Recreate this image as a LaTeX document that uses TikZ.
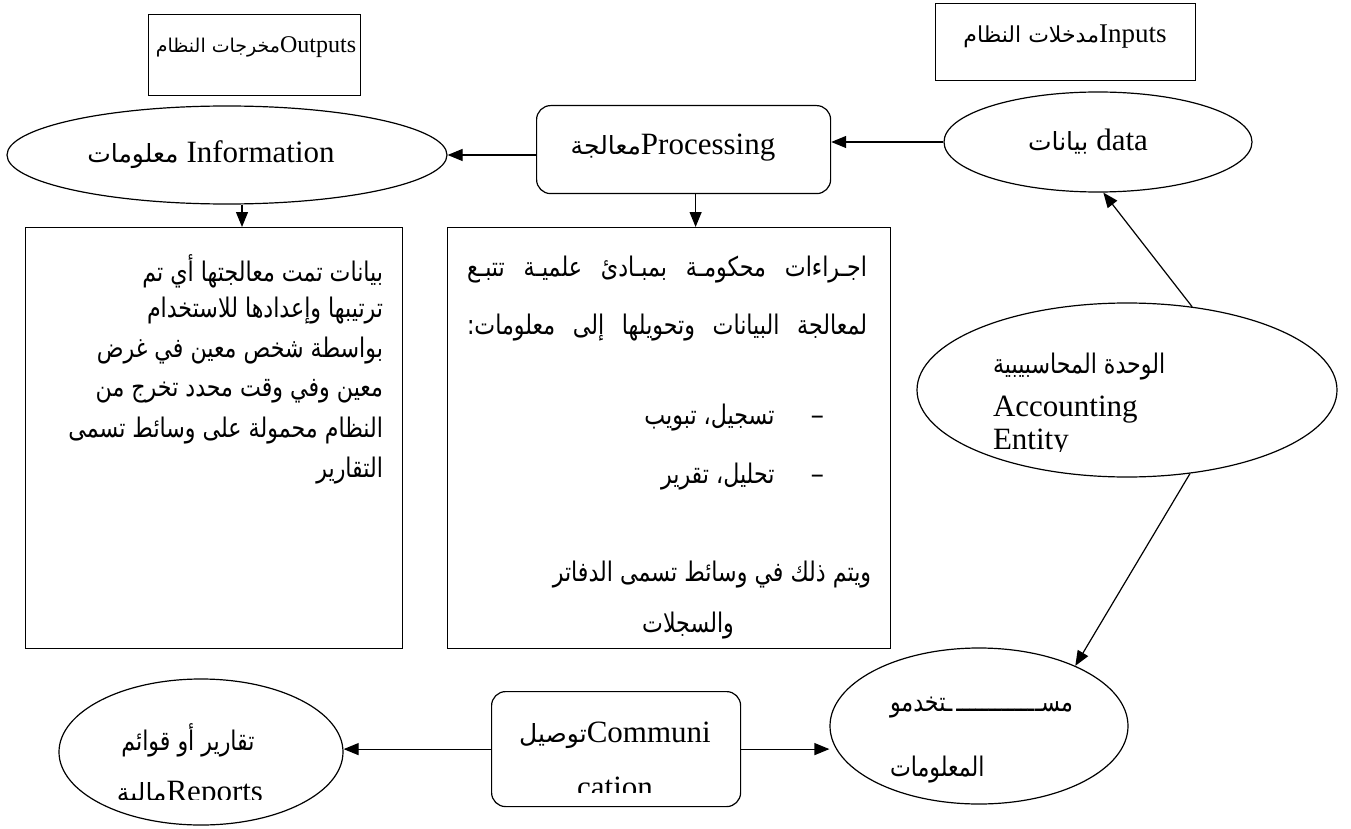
\documentclass[tikz,border=0pt]{standalone}
\usepackage{fontspec}
\setmainfont{Liberation Serif}
\newfontfamily\arf[Script=Arabic]{DejaVu Sans}
\newfontfamily\arb[Script=Arabic,FakeStretch=0.82]{DejaVu Sans}
\newfontfamily\enf{Liberation Serif}
\TeXXeTstate=1
\usetikzlibrary{shapes.geometric,arrows.meta,calc}
\newcommand{\E}[1]{{\enf\fontsize{31}{36}\selectfont #1}}
\newcommand{\Es}[1]{{\enf\fontsize{27}{32}\selectfont #1}}
\newcommand{\Et}[1]{{\enf\fontsize{24}{28}\selectfont #1}}
\newcommand{\AL}[1]{{\arf\fontsize{25}{30}\selectfont #1}}
\newcommand{\ALs}[1]{{\arf\fontsize{22}{26}\selectfont #1}}
\newcommand{\ALt}[1]{{\arf\fontsize{19}{23}\selectfont #1}}
\newcommand{\BT}[1]{{\arb\fontsize{27}{32}\selectfont #1}}
\newcommand{\JL}[2]{{\arb\fontsize{27}{32}\selectfont\spaceskip=0.25em plus 1fil\hbox to #1{#2}}}
\begin{document}
\begin{tikzpicture}[x=1pt,y=-1pt,
  ln/.style={line width=1.2pt},
  arr/.style={ln,-{Triangle[length=15pt,width=12pt]}},
  boxn/.style={draw,line width=1.2pt,inner sep=0,anchor=north west},
  rboxn/.style={boxn,rounded corners=14pt},
  ell/.style={draw,ellipse,line width=1.2pt,inner sep=0},
  txt/.style={inner sep=0,outer sep=0}]
\useasboundingbox (0,0) rectangle (1351,829);
% shapes
\node[boxn,minimum width=212pt,minimum height=81pt] (outbox) at (148,14) {};
\node[boxn,minimum width=260pt,minimum height=77pt] (inbox) at (935,3) {};
\node[ell,minimum width=440pt,minimum height=98pt] (info) at (227,155) {};
\node[rboxn,minimum width=294pt,minimum height=88pt] (proc) at (536,105) {};
\node[ell,minimum width=308pt,minimum height=100pt] (data) at (1098,142) {};
\node[boxn,minimum width=377pt,minimum height=421pt] (leftbox) at (25,227) {};
\node[boxn,minimum width=443pt,minimum height=421pt] (midbox) at (447,227) {};
\node[ell,minimum width=420pt,minimum height=174pt] (acc) at (1127,390) {};
\node[ell,minimum width=298pt,minimum height=156pt] (users) at (979,726) {};
\node[rboxn,minimum width=249pt,minimum height=115pt] (comm) at (491,691) {};
\node[ell,minimum width=284pt,minimum height=146pt] (reports) at (201,752) {};
% labels
\node[txt] (outtxt) at (256,47) {\ALt{\beginR\beginL\Et{Outputs}\endL مخرجات النظام\endR}};
\node[txt] (intxt) at (1065,37) {\ALs{\beginR\beginL\Es{Inputs}\endL مدخلات النظام\endR}};
\node[txt] (infotxt) at (211,155) {\AL{\beginR\beginL\E{Information}\endL{} معلومات\endR}};
\node[txt] (proctxt) at (673,148) {\AL{\beginR\beginL\E{Processing}\endL معالجة\endR}};
\node[txt] (datatxt) at (1088,142) {\AL{\beginR\beginL\E{data}\endL{} بيانات\endR}};
% left box
\node[txt,anchor=east] (l1) at (383,271) {\BT{\beginR بيانات تمت معالجتها أي تم\endR}};
\node[txt,anchor=east] (l2) at (383,311) {\BT{\beginR ترتيبها وإعدادها للاستخدام\endR}};
\node[txt,anchor=east] (l3) at (383,351) {\BT{\beginR بواسطة شخص معين في غرض\endR}};
\node[txt,anchor=east] (l4) at (383,391) {\BT{\beginR معين وفي وقت محدد تخرج من\endR}};
\node[txt,anchor=east] (l5) at (383,431) {\BT{\beginR النظام محمولة على وسائط تسمى\endR}};
\node[txt,anchor=east] (l6) at (383,471) {\BT{\beginR التقارير\endR}};
% middle box
\node[txt] (m1) at (667,270) {\JL{400pt}{\beginR اجـراءات محكومـة بمبـادئ علميـة تتبـع\endR}};
\node[txt] (m2) at (667,328) {\JL{400pt}{\beginR لمعالجة البيانات وتحويلها إلى معلومات:\endR}};
\node[txt,anchor=east] (m3) at (824,418) {\BT{\beginR{\arf –}\hspace{36pt}تسجيل، تبويب\endR}};
\node[txt,anchor=east] (m4) at (824,477) {\BT{\beginR{\arf –}\hspace{36pt}تحليل، تقرير\endR}};
\node[txt] (m5) at (712,575) {\BT{\beginR ويتم ذلك في وسائط تسمى الدفاتر\endR}};
\node[txt] (m6) at (688,626) {\BT{\beginR والسجلات\endR}};
% accounting entity
\node[txt,anchor=west] (acc1) at (993,367) {\BT{\beginR الوحدة المحاسبيبية\endR}};
\node[txt,anchor=west] (acc2) at (993,410) {\E{Accounting}};
\begin{scope}
\clip (900,300) rectangle (1340,451);
\node[txt,anchor=west] (acc3) at (993,443) {\E{Entity}};
\end{scope}
% users
\node[txt,anchor=west] (u1) at (890,708) {{\arb\fontsize{27}{32}\selectfont\hbox to 183pt{\beginR مسـ\leaders\hbox{ـ}\hfill ـتخدمو\endR}}};
\node[txt,anchor=west] (u2) at (890,770) {\BT{\beginR المعلومات\endR}};
% communication
\node[txt] (c1) at (615,735) {\AL{\beginR\beginL\E{Communi}\endL توصيل\endR}};
\begin{scope}
\clip (495,700) rectangle (735,792);
\node[txt] (c2) at (615,787) {\E{cation}};
\end{scope}
% reports
\node[txt] (r1) at (188,740) {\BT{\beginR تقارير أو قوائم\endR}};
\begin{scope}
\clip (60,770) rectangle (340,799);
\node[txt] (r2) at (190,795) {\AL{\beginR\beginL\E{Reports}\endL مالية\endR}};
\end{scope}
% connectors
\draw[arr] (proc.west |- info.east) -- (info.east);
\draw[arr] (data.west) -- (data.west -| proc.east);
\draw[arr] ([xshift=15pt]info.south) -- ([xshift=15pt]info.south |- leftbox.north);
\draw[arr] ([xshift=12pt]proc.south) -- ([xshift=12pt]proc.south |- midbox.north);
\draw[arr] (acc.52) -- (data.-84);
\draw[arr] (acc.-53) -- (users.32);
\draw[arr] (comm.west) -- (comm.west -| reports.east);
\draw[arr] (comm.east) -- (comm.east -| users.west);
\end{tikzpicture}
\end{document}
